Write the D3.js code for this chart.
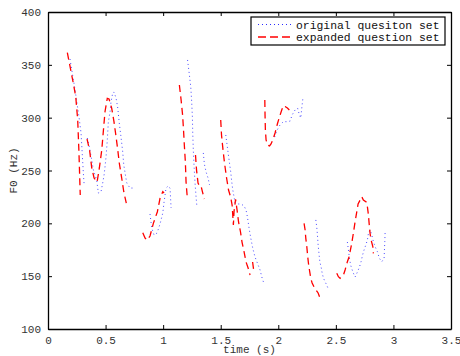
<!DOCTYPE html>
<html>
<head>
<meta charset="utf-8">
<script src="https://cdn.jsdelivr.net/npm/d3@7"></script>
<style>
  body { margin: 0; background: #fff; }
  svg text { font-family: "Liberation Mono", "DejaVu Sans Mono", monospace; }
</style>
</head>
<body>
<div id="chart"></div>
<script>
// time (s) and F0 (Hz); null marks a break between voiced stretches
let origTime = [0.191, 0.235, 0.269, 0.287, 0.298, 0.307, 0.313, null,
  0.341, 0.359, 0.380, 0.394, 0.423, 0.437, 0.460, 0.475, 0.487, 0.495, 0.504, 0.515, 0.524, 0.539, 0.547, 0.562, 0.573, 0.591, 0.606, 0.619, 0.634, 0.649, 0.658, 0.684, 0.712, 0.741, null,
  0.886, 0.901, 0.921, 0.947, 0.973, 0.997, 1.008, 1.025, 1.043, 1.060, 1.069, null,
  1.212, 1.228, 1.240, 1.248, 1.254, 1.257, 1.262, 1.268, 1.277, 1.286, 1.292, null,
  1.349, 1.358, 1.373, 1.390, 1.403, null,
  1.544, 1.561, 1.575, 1.587, 1.596, 1.605, 1.616, 1.625, 1.651, 1.677, 1.703, 1.720, 1.732, 1.746, 1.761, 1.778, 1.798, 1.818, 1.842, 1.857, 1.871, null,
  1.968, 1.990, 2.015, 2.044, 2.076, 2.103, 2.120, 2.146, 2.168, 2.181, 2.195, 2.204, 2.213, null,
  2.326, 2.334, 2.340, 2.346, 2.352, 2.361, 2.372, 2.381, 2.392, 2.407, 2.421, 2.437, null,
  2.600, 2.609, 2.618, 2.628, 2.647, 2.667, 2.687, 2.705, 2.719, 2.732, 2.745, 2.760, 2.774, 2.783, 2.798, 2.812, 2.826, 2.841, 2.861, 2.878, 2.899, 2.919, 2.922, 2.925, 2.928];
let origF0 = [355.5, 326.2, 300.9, 285.5, 264.7, 247.6, 238, null,
  280.7, 272.2, 260, 250.5, 241, 228.7, 229.6, 238.2, 245.7, 253.3, 262.8, 278.9, 295.9, 305.4, 314.8, 323.3, 324.3, 318.6, 309.1, 294.9, 281.7, 267.5, 255.2, 238.2, 233.4, 233.4, null,
  208.8, 195.6, 189, 190.8, 199.4, 209.8, 220.2, 233.4, 235.3, 233.4, 214.5, null,
  354.6, 340.4, 329, 314.8, 300.6, 285.5, 269.4, 255.2, 238.2, 224.9, 217.3, null,
  266.6, 256.1, 248.6, 242.9, 236.3, null,
  283.6, 269.4, 258, 248.6, 239.1, 231.5, 224.9, 219.2, 218.3, 218.3, 216.4, 212.6, 206, 195.6, 186.1, 176.6, 168.1, 162.5, 155.8, 149.2, 144.5, null,
  281.7, 288.3, 293.1, 296.2, 296.2, 296.8, 302.5, 307.3, 308.9, 303.5, 299.7, 309.1, 317.7, null,
  203.2, 196.5, 189, 179.5, 172.9, 163.4, 158.7, 153, 148.3, 144.5, 141.6, 136.9, null,
  182.3, 174.8, 167.2, 160.6, 154.2, 149.2, 153.9, 158.7, 163.7, 170, 174.8, 179.5, 184.2, 190.6, 193.7, 189, 182.6, 177.9, 173.1, 166.9, 163.7, 166.9, 174.8, 182.6, 192.1];

let expTime = [0.168, 0.220, 0.241, 0.258, 0.269, 0.280, null,
  0.339, 0.361, 0.380, 0.400, 0.426, 0.446, 0.467, 0.484, 0.495, 0.515, 0.530, 0.553, 0.573, 0.591, 0.606, 0.619, 0.640, 0.658, 0.680, null,
  0.823, 0.843, 0.863, 0.886, 0.915, 0.950, 0.973, 0.997, 1.008, null,
  1.141, 1.156, 1.169, 1.177, 1.184, 1.193, 1.199, 1.210, null,
  1.281, 1.290, 1.303, 1.316, 1.329, 1.342, 1.358, null,
  1.500, 1.507, 1.520, 1.533, 1.551, 1.568, 1.586, 1.599, 1.610, 1.616, 1.629, 1.642, 1.655, 1.672, 1.685, 1.703, 1.720, 1.738, 1.755, null,
  1.777, 1.786, null,
  1.883, 1.885, 1.888, 1.894, 1.907, 1.924, 1.937, 1.955, 1.972, 1.992, 2.010, 2.030, 2.044, 2.059, 2.079, 2.096, null,
  2.224, 2.233, 2.239, 2.248, 2.255, 2.262, 2.272, 2.282, 2.294, 2.311, 2.328, 2.346, 2.363, null,
  2.508, 2.522, 2.537, 2.566, 2.580, 2.600, 2.615, 2.638, 2.652, 2.667, 2.682, 2.693, 2.711, 2.725, 2.739, 2.763, 2.774, 2.783, 2.789, 2.797, 2.806, 2.821, 2.826];
let expF0 = [361.5, 332.5, 319.8, 297.8, 266.6, 226.8, null,
  279.8, 269.4, 252.4, 243, 239, 252.4, 269.4, 291.5, 305.6, 318.3, 317.7, 309.1, 296.2, 282, 269.4, 257.1, 242.9, 229.9, 219.2, null,
  191, 186.1, 184.2, 188, 200, 211, 223.7, 230, 228.7, null,
  330.9, 316.7, 302.5, 288.3, 274.1, 258, 239.1, 224, null,
  264.7, 250.5, 238.2, 235.3, 235.3, 229.6, 223, null,
  297.8, 283.6, 269.4, 257.1, 242.9, 231.5, 224.9, 217.3, 198.4, 211.6, 222.6, 212.6, 201.3, 191.8, 182.3, 172.9, 163.4, 157.7, 151.1, null,
  163.4, 155.8, null,
  316.7, 302.5, 288.3, 278.9, 274.1, 273.2, 275.1, 279.8, 285.5, 294, 300.6, 307.3, 311.3, 310.6, 309.1, 307.3, null,
  200, 193.7, 185.8, 177.6, 169.1, 162.2, 154.9, 148, 143.5, 139.7, 136.9, 134.1, 129.1, null,
  152.7, 149.5, 148, 151.1, 155.8, 163.7, 168.4, 181.1, 190.6, 201.5, 211, 218.3, 222.1, 225.2, 222.1, 220.2, 215.5, 207.9, 200, 190.6, 184.2, 177.9, 171.6];

let xTicks = [0, 0.5, 1, 1.5, 2, 2.5, 3, 3.5];
let yTicks = [100, 150, 200, 250, 300, 350, 400];
let seriesNames = ["original quesiton set", "expanded question set"];

let W = 460, H = 356;
let m = {top: 12, right: 9, bottom: 27, left: 48};
let w = W - m.left - m.right;
let h = H - m.top - m.bottom;

let svg = d3.select("#chart").append("svg")
    .attr("width", W)
    .attr("height", H);

let g = svg.append("g").attr("transform", "translate(" + m.left + "," + m.top + ")");

let x = d3.scaleLinear().domain([0, 3.5]).range([0, w]);
let y = d3.scaleLinear().domain([100, 400]).range([h, 0]);

let toPts = (ts, fs) => ts.map((t, i) => t === null ? null : [t, fs[i]]);

let line = d3.line()
    .defined(d => d !== null)
    .x(d => x(d[0]))
    .y(d => y(d[1]));

// original: blue dotted
g.append("path")
    .datum(toPts(origTime, origF0))
    .attr("d", line)
    .attr("fill", "none")
    .attr("stroke", "#2a2aff")
    .attr("stroke-opacity", 0.85)
    .attr("stroke-width", 1)
    .attr("stroke-dasharray", "1,3");

// expanded: red dashed
g.append("path")
    .datum(toPts(expTime, expF0))
    .attr("d", line)
    .attr("fill", "none")
    .attr("stroke", "#ff0000")
    .attr("stroke-width", 1.3)
    .attr("stroke-dasharray", "7,4.5");

// axes, ticks pointing inward like matlab
let tickLen = 4;
g.append("g")
    .attr("transform", "translate(0," + h + ")")
    .call(d3.axisBottom(x).tickValues(xTicks).tickSizeInner(-tickLen).tickSizeOuter(0).tickPadding(7).tickFormat(d3.format("")));
g.append("g")
    .call(d3.axisLeft(y).tickValues(yTicks).tickSizeInner(-tickLen).tickSizeOuter(0).tickPadding(7));
g.append("g")
    .call(d3.axisTop(x).tickValues(xTicks).tickSizeInner(-tickLen).tickSizeOuter(0).tickFormat(""));
g.append("g")
    .attr("transform", "translate(" + w + ",0)")
    .call(d3.axisRight(y).tickValues(yTicks).tickSizeInner(-tickLen).tickSizeOuter(0).tickFormat(""));

g.selectAll(".domain").attr("stroke", "#000").attr("stroke-width", 1.3);
g.selectAll(".tick line").attr("stroke", "#000");
g.selectAll(".tick text")
    .attr("font-family", "Liberation Mono, monospace")
    .attr("font-size", 11)
    .attr("fill", "#333");

// axis labels
svg.append("text")
    .attr("x", m.left + w / 2)
    .attr("y", 353)
    .attr("text-anchor", "middle")
    .attr("font-size", 11)
    .attr("fill", "#333")
    .text("time (s)");

svg.append("text")
    .attr("transform", "translate(17," + (m.top + h / 2) + ") rotate(-90)")
    .attr("text-anchor", "middle")
    .attr("font-size", 11)
    .attr("fill", "#333")
    .text("F0 (Hz)");

// legend
let legend = svg.append("g").attr("transform", "translate(251,17)");
legend.append("rect")
    .attr("width", 194)
    .attr("height", 28)
    .attr("fill", "#fff")
    .attr("stroke", "#000")
    .attr("stroke-width", 1.2);

let legendStyles = [
    {color: "#2a2aff", dash: "1,3", width: 1},
    {color: "#ff0000", dash: "8,4", width: 1.3}
];

legend.selectAll("line")
    .data(seriesNames)
    .enter()
    .append("line")
    .attr("x1", 7)
    .attr("x2", 41)
    .attr("y1", (d, i) => 7.5 + i * 12.5)
    .attr("y2", (d, i) => 7.5 + i * 12.5)
    .attr("stroke", (d, i) => legendStyles[i].color)
    .attr("stroke-width", (d, i) => legendStyles[i].width)
    .attr("stroke-dasharray", (d, i) => legendStyles[i].dash);

legend.selectAll("text")
    .data(seriesNames)
    .enter()
    .append("text")
    .attr("x", 45)
    .attr("y", (d, i) => 11.5 + i * 12.5)
    .attr("font-size", 11.4)
    .attr("fill", "#111")
    .text(d => d);
</script>
</body>
</html>
